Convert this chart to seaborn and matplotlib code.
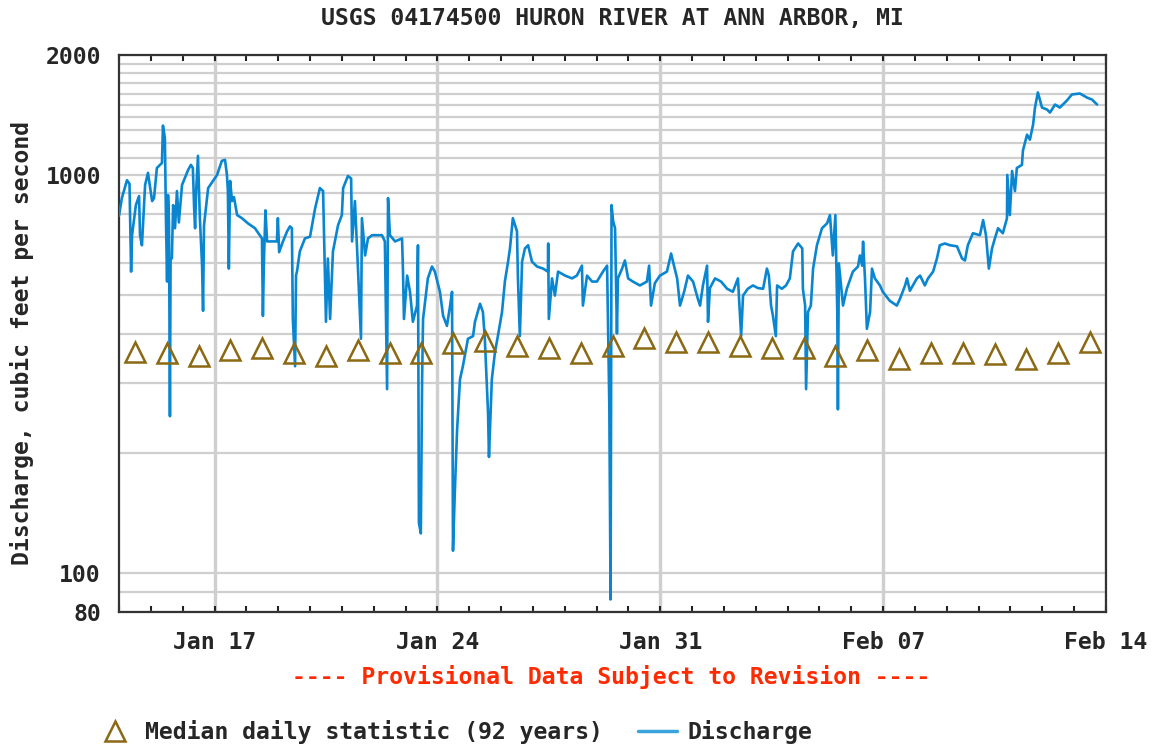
import numpy as np
import pandas as pd
import seaborn as sns
import matplotlib.pyplot as plt
import matplotlib.dates as mdates
from matplotlib.ticker import FixedLocator, NullFormatter
from matplotlib.lines import Line2D

# discharge readings: days after 2024-01-14 00:00, cubic feet per second
discharge_day = [
    0.00, 0.09, 0.25, 0.33, 0.38, 0.41, 0.53, 0.63, 0.66, 0.72, 0.82, 0.91,
    1.04, 1.10, 1.19, 1.35, 1.38, 1.44, 1.48, 1.51, 1.54, 1.57, 1.60, 1.62,
    1.66, 1.70, 1.76, 1.82, 1.88, 1.98, 2.07, 2.17, 2.26, 2.32, 2.36, 2.39,
    2.42, 2.48, 2.54, 2.61, 2.64, 2.67, 2.80, 2.95, 3.08, 3.23, 3.33, 3.39,
    3.42, 3.45, 3.49, 3.55, 3.61, 3.71, 3.86, 4.05, 4.27, 4.49, 4.52, 4.55,
    4.60, 4.65, 4.81, 4.96, 4.99, 5.03, 5.15, 5.28, 5.37, 5.43, 5.46, 5.53,
    5.56, 5.59, 5.68, 5.84, 6.00, 6.16, 6.31, 6.41, 6.47, 6.50, 6.56, 6.63,
    6.72, 6.88, 7.00, 7.04, 7.19, 7.29, 7.32, 7.41, 7.51, 7.60, 7.63, 7.73,
    7.82, 7.95, 8.26, 8.35, 8.42, 8.45, 8.51, 8.67, 8.89, 8.92, 8.95, 9.05,
    9.14, 9.23, 9.36, 9.39, 9.42, 9.48, 9.52, 9.55, 9.70, 9.83, 9.92, 10.08,
    10.18, 10.30, 10.40, 10.46, 10.47, 10.49, 10.55, 10.62, 10.71, 10.80,
    10.96, 11.12, 11.18, 11.34, 11.43, 11.49, 11.59, 11.62, 11.71, 11.81,
    11.90, 12.03, 12.12, 12.22, 12.28, 12.37, 12.50, 12.53, 12.59, 12.66,
    12.75, 12.85, 12.97, 13.13, 13.32, 13.47, 13.48, 13.50, 13.60, 13.69,
    13.79, 14.01, 14.23, 14.38, 14.54, 14.57, 14.70, 14.86, 15.01, 15.20,
    15.33, 15.40, 15.44, 15.47, 15.52, 15.58, 15.64, 15.67, 15.80, 15.89,
    15.99, 16.14, 16.36, 16.58, 16.65, 16.71, 16.83, 16.99, 17.21, 17.34,
    17.40, 17.53, 17.62, 17.75, 17.87, 18.03, 18.18, 18.25, 18.34, 18.47,
    18.50, 18.56, 18.72, 18.91, 19.10, 19.28, 19.44, 19.54, 19.60, 19.75,
    19.91, 20.07, 20.23, 20.35, 20.41, 20.48, 20.54, 20.63, 20.67, 20.82,
    20.95, 21.07, 21.17, 21.33, 21.46, 21.48, 21.55, 21.58, 21.64, 21.73,
    21.80, 21.92, 22.08, 22.24, 22.33, 22.42, 22.50, 22.56, 22.58, 22.61,
    22.74, 22.86, 23.05, 23.21, 23.27, 23.34, 23.37, 23.43, 23.49, 23.59,
    23.65, 23.74, 23.90, 23.99, 24.21, 24.43, 24.53, 24.69, 24.75, 24.84,
    25.06, 25.16, 25.31, 25.41, 25.57, 25.69, 25.78, 25.94, 26.10, 26.32,
    26.48, 26.57, 26.66, 26.82, 27.04, 27.14, 27.23, 27.32, 27.42, 27.51,
    27.61, 27.76, 27.89, 27.90, 27.98, 28.05, 28.14, 28.20, 28.36, 28.39,
    28.52, 28.61, 28.71, 28.77, 28.86, 28.99, 29.15, 29.24, 29.40, 29.55,
    29.77, 29.93, 30.18, 30.40, 30.56, 30.72,
]
discharge_cfs = [
    790, 875, 970, 950, 572, 706, 840, 885, 706, 666, 944, 1012,
    860, 875, 1041, 1072, 1330, 1240, 735, 540, 890, 760, 248, 617,
    617, 840, 735, 911, 760, 944, 983, 1029, 1060, 1040, 825, 735,
    900, 1117, 779, 590, 456, 748, 927, 966, 1000, 1085, 1091, 1000,
    911, 582, 966, 860, 880, 793, 779, 756, 735, 693, 443, 600,
    815, 681, 681, 681, 779, 640, 681, 722, 743, 735, 435, 331,
    560, 572, 643, 693, 700, 825, 927, 911, 559, 428, 617, 435,
    643, 748, 793, 927, 994, 980, 681, 860, 572, 388, 779, 628,
    693, 706, 706, 681, 290, 875, 706, 681, 693, 572, 435, 559,
    509, 428, 470, 666, 134, 126, 307, 435, 550, 589, 572, 509,
    443, 418, 470, 509, 320, 114, 162, 230, 307, 331,
    388, 394, 428, 475, 453, 388, 254, 196, 307, 360,
    394, 453, 540, 606, 654, 779, 722, 550, 394, 606,
    654, 666, 606, 589, 582, 572, 673, 435, 550, 498,
    572, 559, 550, 559, 592, 470, 559, 540, 540, 572,
    592, 263, 86, 840, 765, 735, 400, 550, 582, 610,
    550, 540, 528, 540, 592, 470, 535, 559, 572, 635,
    606, 550, 470, 509, 559, 540, 489, 470, 528, 592,
    428, 520, 550, 540, 518, 509, 550, 394, 498, 518,
    528, 520, 518, 582, 560, 470, 443, 394, 528, 518,
    528, 550, 643, 673, 654, 518, 470, 290, 453, 470,
    582, 666, 735, 756, 793, 628, 793, 453, 258, 600,
    470, 518, 572, 589, 628, 592, 680, 550, 411, 453,
    582, 550, 528, 509, 483, 470, 489, 528, 550, 512,
    550, 559, 528, 550, 572, 617, 666, 673, 666, 662,
    617, 610, 666, 714, 706, 770, 706, 582, 654, 693,
    735, 714, 779, 1000, 793, 1023, 911, 1041, 1060, 1150,
    1262, 1226, 1338, 1476, 1611, 1476, 1459, 1434, 1502, 1476,
    1537, 1592, 1601, 1564, 1546, 1502,
]

# median daily statistic (92 years), one per day Jan 14 .. Feb 13
median_cfs = [
    359, 357, 351, 363, 368, 357, 351, 363, 357, 357, 378, 383, 372, 368,
    357, 372, 390, 381, 381, 372, 368, 368, 351, 363, 345, 357, 357, 355,
    346, 357, 381,
]

start = pd.Timestamp("2024-01-14")
flow = pd.DataFrame({
    "time": start + pd.to_timedelta(discharge_day, unit="D"),
    "cfs": discharge_cfs,
})
median = pd.DataFrame({
    "time": pd.date_range("2024-01-14 12:00", periods=len(median_cfs), freq="D"),
    "cfs": median_cfs,
})

sns.set_style("white")
plt.rcParams["font.family"] = ["DejaVu Sans Mono"]
plt.rcParams["font.weight"] = "bold"

line_blue = "#0a86d1"
tri_brown = "#8b6914"
grid_gray = "#cfcfcf"
fs = 16.7

fig = plt.figure(figsize=(11.56, 7.48), dpi=100)
ax = fig.add_axes([119 / 1156, 1 - 612 / 748, (1106 - 119) / 1156, (612 - 55) / 748])

sns.lineplot(data=flow, x="time", y="cfs", ax=ax, color=line_blue,
             linewidth=1.9, estimator=None, sort=False, zorder=3)
sns.lineplot(data=median, x="time", y="cfs", ax=ax, linestyle="none",
             marker="^", markersize=14, markerfacecolor="none",
             markeredgecolor=tri_brown, markeredgewidth=1.8, estimator=None, zorder=4)

ax.set_yscale("log")
ax.set_ylim(80, 2000)
ax.set_xlim(start, pd.Timestamp("2024-02-14"))

# y axis
ax.yaxis.set_major_locator(FixedLocator([80, 100, 1000, 2000]))
ax.yaxis.set_major_formatter(plt.FuncFormatter(lambda v, p: f"{v:.0f}"))
ax.yaxis.set_minor_locator(FixedLocator([90] + list(range(100, 2000, 100))))
ax.yaxis.set_minor_formatter(NullFormatter())
ax.tick_params(axis="y", which="both", length=0, pad=13, labelsize=fs)

# x axis
ax.xaxis.set_major_locator(FixedLocator(mdates.date2num(
    pd.to_datetime(["2024-01-17", "2024-01-24", "2024-01-31", "2024-02-07", "2024-02-14"]))))
ax.xaxis.set_major_formatter(mdates.DateFormatter("%b %d"))
ax.xaxis.set_minor_locator(mdates.DayLocator())
ax.tick_params(axis="x", which="both", direction="in", top=True, bottom=True,
               length=4, width=1.5, color="#222222", labelsize=fs, pad=14)

ax.grid(True, which="minor", axis="y", color=grid_gray, linewidth=1.6)
ax.grid(True, which="major", axis="y", color=grid_gray, linewidth=1.6)
ax.grid(True, which="major", axis="x", color=grid_gray, linewidth=2.4)
ax.set_axisbelow(True)
ax.set_xlabel("")
ax.set_ylabel("")
for s in ax.spines.values():
    s.set_color("#333333")
    s.set_linewidth(1.6)

fig.text(612 / 1156, 1 - 18 / 748, "USGS 04174500 HURON RIVER AT ANN ARBOR, MI",
         ha="center", va="center", fontsize=fs, fontweight="bold")
fig.text(22 / 1156, 1 - 343 / 748, "Discharge, cubic feet per second",
         ha="center", va="center", rotation=90, fontsize=fs, fontweight="bold")
fig.text(611 / 1156, 1 - 677 / 748, "---- Provisional Data Subject to Revision ----",
         ha="center", va="center", fontsize=fs, fontweight="bold", color="#ff2a00")

handles = [
    Line2D([], [], linestyle="none", marker="^", markersize=14, markerfacecolor="none",
           markeredgecolor=tri_brown, markeredgewidth=1.8),
    Line2D([], [], color="#3aa3de", linewidth=2.5),
]
fig.legend(handles, ["Median daily statistic (92 years)", "Discharge"],
           loc="center left", bbox_to_anchor=(95 / 1156, 1 - 732 / 748), ncol=2,
           frameon=False, fontsize=fs, handlelength=1.72, handletextpad=0.43,
           columnspacing=1.5, borderpad=0, borderaxespad=0)

fig.savefig("out.png", dpi=100)
plt.close(fig)
